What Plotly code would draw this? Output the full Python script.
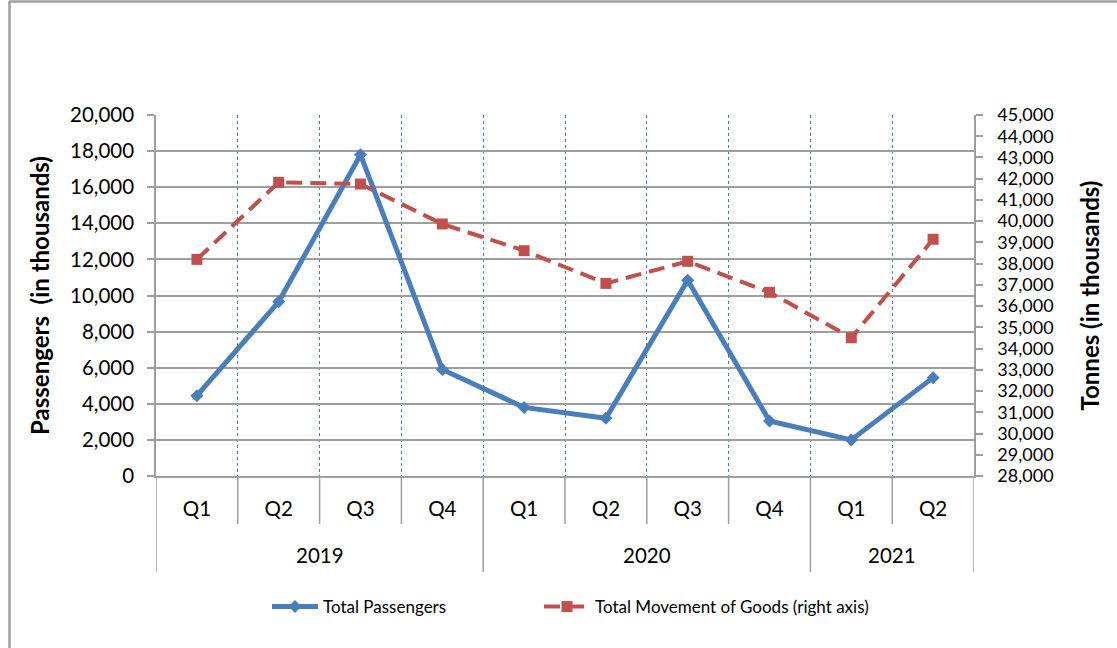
import plotly.graph_objects as go

years = ["2019", "2019", "2019", "2019", "2020", "2020", "2020", "2020", "2021", "2021"]
quarters = ["Q1", "Q2", "Q3", "Q4", "Q1", "Q2", "Q3", "Q4", "Q1", "Q2"]
passengers = [4450, 9650, 17800, 5900, 3800, 3200, 10850, 3050, 2000, 5450]
goods = [38200, 41830, 41750, 39870, 38610, 37070, 38110, 36650, 34510, 39150]

W, H = 1117, 648
L, R, T, B = 156, 974, 115, 476

FONT = "Lato"
BLUE = "#4A7EBB"
RED = "#C0504D"
GRID = "#9E9E9E"

cats = [f"{y} {q}" for y, q in zip(years, quarters)]
n = len(cats)


def px(x):
    return (x - L) / (R - L)


def py(y):
    return (B - y) / (B - T)


fig = go.Figure()
fig.add_trace(go.Scatter(
    x=cats, y=passengers, name="Total Passengers",
    mode="lines+markers", legend="legend",
    line=dict(color=BLUE, width=5),
    marker=dict(symbol="diamond", size=10, color=BLUE),
))
fig.add_trace(go.Scatter(
    x=cats, y=goods, name="Total Movement of Goods (right axis)",
    mode="lines+markers", yaxis="y2", legend="legend2",
    line=dict(color=RED, width=4, dash="16px,8px"),
    marker=dict(symbol="square", size=11, color=RED),
))

shapes = []
# outer chart border (top and left only)
shapes.append(dict(type="line", xref="paper", yref="paper", x0=px(9), x1=px(1130),
                   y0=py(1.5), y1=py(1.5), line=dict(color="#A0A0A0", width=2.5)))
shapes.append(dict(type="line", xref="paper", yref="paper", x0=px(9.5), x1=px(9.5),
                   y0=py(1), y1=py(660), line=dict(color="#A0A0A0", width=2.5)))
# category boundary lines in the label band
for i in range(n + 1):
    year_break = i == 0 or i == n or years[i] != years[i - 1]
    shapes.append(dict(type="line", xref="x", yref="paper", x0=i - 0.5, x1=i - 0.5,
                       y0=0, y1=py(572 if year_break else 524),
                       line=dict(color=GRID, width=1.5)))

annotations = []
seen = []
for y in years:
    if y not in seen:
        seen.append(y)
for y in seen:
    idx = [i for i, v in enumerate(years) if v == y]
    annotations.append(dict(x=sum(idx) / len(idx), xref="x", y=py(555), yref="paper",
                            text=y, showarrow=False, xanchor="center", yanchor="middle",
                            font=dict(size=20.5, family=FONT, color="#000000")))

legend_common = dict(orientation="h", yanchor="middle", xanchor="left", y=py(607),
                     font=dict(size=17, family=FONT, color="#000000"),
                     bgcolor="rgba(0,0,0,0)", borderwidth=0, itemwidth=46)

fig.update_layout(
    width=W, height=H,
    margin=dict(l=L, r=W - R, t=T, b=H - B),
    paper_bgcolor="white", plot_bgcolor="white",
    font=dict(family=FONT, size=17, color="#000000"),
    showlegend=True,
    shapes=shapes,
    annotations=annotations,
    legend=dict(x=px(267), **legend_common),
    legend2=dict(x=px(539), **legend_common),
    xaxis=dict(
        type="category", range=[-0.5, n - 0.5],
        tickmode="array", tickvals=cats, ticktext=quarters,
        showline=True, linecolor=GRID, linewidth=1.5,
        ticks="", tickson="boundaries",
        ticklabelstandoff=14,
        showgrid=True, gridcolor=BLUE, griddash="dot", gridwidth=1,
        tickfont=dict(size=20.5, family=FONT),
        automargin=False,
    ),
    yaxis=dict(
        range=[0, 20000], dtick=2000, tickformat=",d",
        showline=True, linecolor=GRID, linewidth=1.5,
        ticks="outside", ticklen=7, tickcolor=GRID, tickwidth=1.5,
        ticklabelstandoff=9,
        showgrid=True, gridcolor=GRID, gridwidth=1.5,
        zeroline=False, automargin=False,
        tickfont=dict(size=20.5, family=FONT),
        title=dict(text="<b>Passengers  (in thousands)</b>", font=dict(size=24, family=FONT), standoff=14),
    ),
    yaxis2=dict(
        range=[28000, 45000], dtick=1000, tickformat=",d",
        overlaying="y", side="right",
        showline=True, linecolor=GRID, linewidth=1.5,
        ticks="outside", ticklen=7, tickcolor=GRID, tickwidth=1.5,
        ticklabelstandoff=11,
        showgrid=False, zeroline=False, automargin=False,
        tickfont=dict(size=18, family=FONT),
        title=dict(text="<b>Tonnes (in thousands)</b>", font=dict(size=24, family=FONT), standoff=30),
    ),
)

fig.write_html("out.html", config={"displayModeBar": False},
               post_script="document.body.style.margin='0px';")
